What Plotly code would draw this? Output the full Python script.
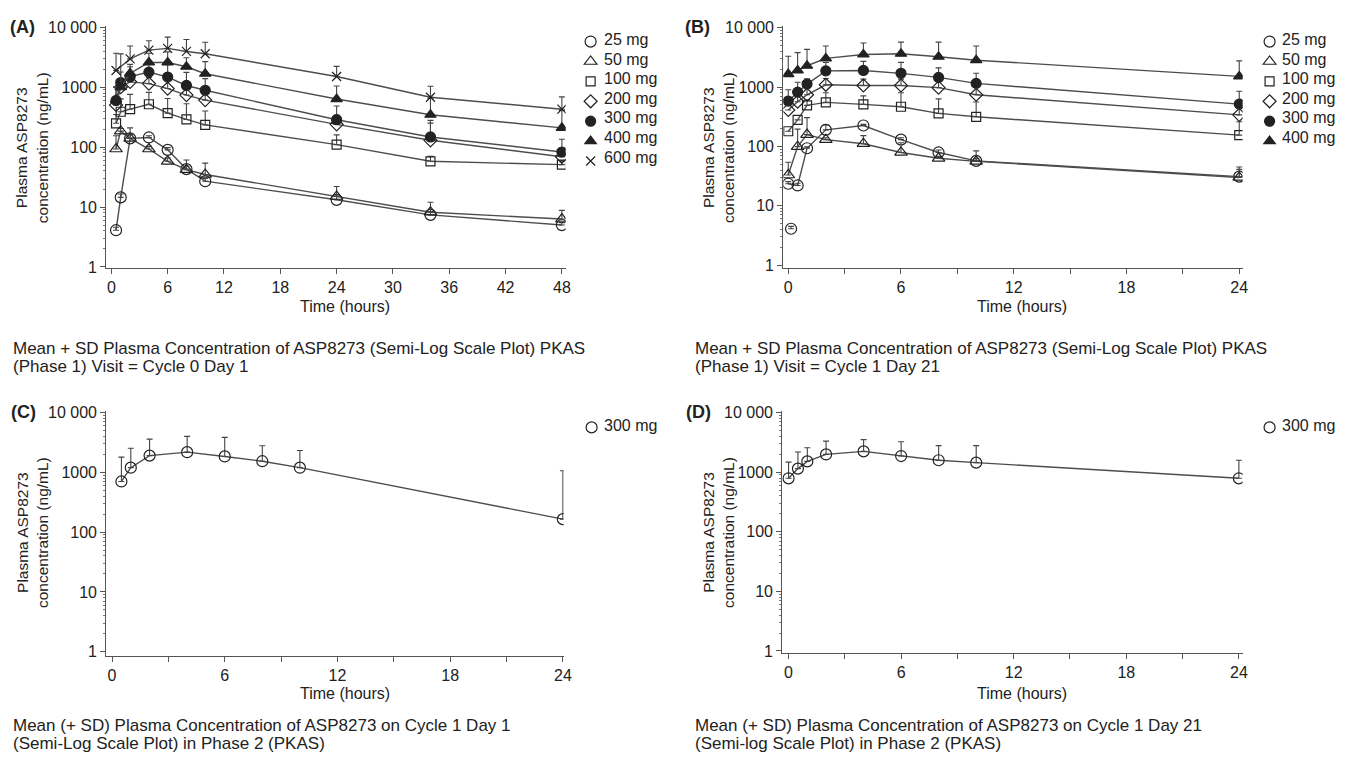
import plotly.graph_objects as go

W, H = 1356, 764

# ---------------- Panel A: Phase 1, Cycle 0 Day 1 ----------------
time_a = [0.5, 1, 2, 4, 6, 8, 10, 24, 34, 48]
a_25 = [4.1, 14.5, 140, 145, 90, 43, 27, 13.2, 7.4, 5.0]
a_25_sd = [0.5, 2, 70, 10, 8, 5, 3, 2, 1, 0.5]
a_50 = [93, 185, 140, 93, 58, 42, 35, 15, 8.2, 6.3]
a_50_sd = [62, 20, 20, 10, 8, 19, 19, 7, 3.8, 2.5]
a_100 = [250, 390, 430, 520, 370, 290, 235, 110, 58, 51]
a_100_sd = [100, 250, 330, 300, 280, 240, 165, 50, 12, 8]
a_200 = [505, 1000, 1230, 1150, 950, 740, 610, 240, 130, 69]
a_200_sd = [200, 200, 400, 300, 400, 350, 300, 100, 150, 20]
a_300 = [600, 1200, 1500, 1790, 1480, 1070, 890, 287, 148, 83]
a_300_sd = [400, 600, 700, 900, 900, 700, 500, 200, 104, 52]
a_400 = [620, 1000, 1710, 2590, 2590, 2200, 1680, 635, 347, 210]
a_400_sd = [400, 2600, 700, 1100, 1300, 900, 1000, 415, 300, 200]
a_600 = [1900, None, 2970, 4170, 4460, 3960, 3630, 1510, 680, 430]
a_600_sd = [1800, None, 1900, 1800, 2400, 2300, 2000, 720, 360, 260]

# ---------------- Panel B: Phase 1, Cycle 1 Day 21 ----------------
time_b = [0, 0.5, 1, 2, 4, 6, 8, 10, 24]
b_25 = [23.5, 22, 93, 190, 225, 130, 79, 57, 31]
b_25_sd = [2, 2, 5, 40, 10, 10, 8, 5, 10]
b_25_extra_time = [0.15]
b_25_extra = [4.1]
b_50 = [33, 99, 158, 130, 111, 79, 63, 56, 30]
b_50_sd = [21, 96, 147, 10, 41, 36, 5, 28, 15]
b_100 = [180, 280, 490, 550, 510, 465, 360, 315, 155]
b_100_sd = [0, 0, 120, 250, 200, 335, 270, 245, 105]
b_200 = [410, 565, 740, 1090, 1060, 1060, 975, 740, 340]
b_200_sd = [0, 150, 400, 300, 300, 300, 300, 300, 150]
b_300 = [580, 820, 1120, 1870, 1900, 1700, 1450, 1150, 515]
b_300_sd = [320, 380, 250, 710, 800, 900, 650, 550, 335]
b_400 = [1650, 1900, 2280, 3030, 3530, 3630, 3230, 2830, 1510]
b_400_sd = [1650, 1900, 2020, 1870, 1970, 2070, 2470, 2070, 1240]

# ---------------- Panel C: Phase 2, Cycle 1 Day 1 ----------------
time_c = [0.5, 1, 2, 4, 6, 8, 10, 24]
c_300 = [705, 1200, 1910, 2180, 1850, 1540, 1200, 165]
c_300_sd = [1095, 1330, 1690, 1820, 2000, 1260, 1130, 900]

# ---------------- Panel D: Phase 2, Cycle 1 Day 21 ----------------
time_d = [0, 0.5, 1, 2, 4, 6, 8, 10, 24]
d_300 = [790, 1150, 1520, 1990, 2240, 1870, 1590, 1450, 790]
d_300_sd = [690, 1030, 1050, 1330, 1280, 1380, 1210, 1350, 800]

dose_labels = ["25 mg", "50 mg", "100 mg", "200 mg", "300 mg", "400 mg", "600 mg"]
y_tick_vals = [1, 10, 100, 1000, 10000]
y_tick_text = ["1", "10", "100", "1000", "10 000"]

FONT = "Liberation Sans, Arial, sans-serif"
INK = "#222222"
LINE = "#4d4d4d"

SYMBOLS = {
    "25 mg": ("circle-open", 11),
    "50 mg": ("triangle-up-open", 11),
    "100 mg": ("square-open", 9),
    "200 mg": ("diamond-open", 10),
    "300 mg": ("circle", 10),
    "400 mg": ("triangle-up", 10),
    "600 mg": ("x-thin-open", 9),
}

fig = go.Figure()


def add_series(t, vals, sd, label, xa, ya, legend, symbol_key=None, show_line=True, show_legend=True):
    sym, size = SYMBOLS[symbol_key or label]
    if show_line:
        fig.add_trace(go.Scatter(
            x=t, y=vals, mode="lines", connectgaps=True, xaxis=xa, yaxis=ya,
            line=dict(color=LINE, width=1.4), showlegend=False, hoverinfo="skip"))
    fig.add_trace(go.Scatter(
        x=t, y=vals, mode="markers", xaxis=xa, yaxis=ya, name=" ",
        legend=legend, showlegend=show_legend, hovertext=label,
        marker=dict(symbol=sym, size=size, color=INK, line=dict(color=INK, width=1.2)),
        error_y=dict(type="data", symmetric=False, array=sd,
                     arrayminus=[0] * len(sd), color="#444444", thickness=1.1, width=3)))


series_a = [a_25, a_50, a_100, a_200, a_300, a_400, a_600]
sd_a = [a_25_sd, a_50_sd, a_100_sd, a_200_sd, a_300_sd, a_400_sd, a_600_sd]
for lab, v, s in zip(dose_labels, series_a, sd_a):
    add_series(time_a, v, s, lab, "x", "y", "legend")

series_b = [b_25, b_50, b_100, b_200, b_300, b_400]
sd_b = [b_25_sd, b_50_sd, b_100_sd, b_200_sd, b_300_sd, b_400_sd]
for lab, v, s in zip(dose_labels[:6], series_b, sd_b):
    add_series(time_b, v, s, lab, "x2", "y2", "legend2")
add_series(b_25_extra_time, b_25_extra, [0.4], "25 mg", "x2", "y2", "legend2",
           show_line=False, show_legend=False)

add_series(time_c, c_300, c_300_sd, "300 mg", "x3", "y3", "legend3", symbol_key="25 mg")
add_series(time_d, d_300, d_300_sd, "300 mg", "x4", "y4", "legend4", symbol_key="25 mg")


def px_x(a, b):
    return [a / W, b / W]


def px_y(top, bottom):
    return [1 - bottom / H, 1 - top / H]


minor_log = [m * 10 ** k for k in range(0, 4) for m in range(2, 10)]

axis_common = dict(showline=True, linecolor="#555555", linewidth=1.3, ticks="outside",
                   ticklen=5, tickcolor="#555555", tickwidth=1.2, showgrid=False, zeroline=False,
                   tickfont=dict(family=FONT, size=16, color=INK))


def yaxis(dom, rng, anchor):
    return dict(axis_common, type="log", domain=dom, range=rng, anchor=anchor,
                tickmode="array", tickvals=y_tick_vals, ticktext=y_tick_text,
                minor=dict(tickmode="array", tickvals=minor_log, ticks="outside",
                           ticklen=2.5, tickcolor="#777777", showgrid=False))


def xaxis(dom, rng, anchor, major, minor=None):
    d = dict(axis_common, domain=dom, range=rng, anchor=anchor,
             tickmode="array", tickvals=major, ticktext=[str(v) for v in major])
    if minor:
        d["minor"] = dict(tickmode="array", tickvals=minor, ticks="outside", ticklen=5,
                          tickcolor="#555555", showgrid=False)
    return d


fig.update_layout(
    width=W, height=H, margin=dict(l=0, r=0, t=0, b=0),
    paper_bgcolor="white", plot_bgcolor="white",
    font=dict(family=FONT, size=16, color=INK),
    xaxis=xaxis(px_x(107, 569), [-0.53, 48.4], "y", [0, 6, 12, 18, 24, 30, 36, 42, 48]),
    yaxis=yaxis(px_y(19.5, 266), [-0.02, 4.02], "x"),
    xaxis2=xaxis(px_x(788, 1250), [-0.26, 24.18], "y2", [0, 6, 12, 18, 24], [3, 9, 15, 21]),
    yaxis2=yaxis(px_y(19.5, 266), [-0.05, 4.025], "x2"),
    xaxis3=xaxis(px_x(107, 567), [-0.30, 24.04], "y3", [0, 6, 12, 18, 24], [3, 9, 15, 21]),
    yaxis3=yaxis(px_y(412, 660.7), [-0.066, 4.02], "x3"),
    xaxis4=xaxis(px_x(787, 1250), [-0.33, 24.2], "y4", [0, 6, 12, 18, 24], [3, 9, 15, 21]),
    yaxis4=yaxis(px_y(412, 658), [-0.033, 4.02], "x4"),
)

leg_common = dict(xanchor="left", yanchor="top", bgcolor="rgba(0,0,0,0)", borderwidth=0,
                  tracegroupgap=0, font=dict(family=FONT, size=13, color=INK))
fig.update_layout(
    legend=dict(leg_common, x=574 / W, y=1 - 20 / H),
    legend2=dict(leg_common, x=1257 / W, y=1 - 20 / H),
    legend3=dict(leg_common, x=575 / W, y=1 - 413 / H),
    legend4=dict(leg_common, x=1257 / W, y=1 - 413 / H),
)

annotations = []


def txt(x, y, text, size=16, bold=False, angle=0, xanchor="center", align="center"):
    annotations.append(dict(
        x=x / W, y=1 - y / H, xref="paper", yref="paper", text=f"<b>{text}</b>" if bold else text,
        showarrow=False, textangle=angle, xanchor=xanchor, yanchor="middle", align=align,
        font=dict(family=FONT, size=size, color=INK)))


# legend labels
for i, lab in enumerate(dose_labels):
    txt(606, 33 + 20 * i, lab, xanchor="left")
for i, lab in enumerate(dose_labels[:6]):
    txt(1288, 33 + 20 * i, lab, xanchor="left")
txt(606, 426, "300 mg", xanchor="left")
txt(1288, 426, "300 mg", xanchor="left")

# panel labels
txt(8, 20, "(A)", size=18, bold=True, xanchor="left")
txt(687, 20, "(B)", size=18, bold=True, xanchor="left")
txt(9, 413, "(C)", size=18, bold=True, xanchor="left")
txt(688, 413, "(D)", size=18, bold=True, xanchor="left")

# y-axis titles
ytitle = "Plasma ASP8273<br>concentration (ng/mL)"
txt(32, 143, ytitle, size=15.5, angle=-90)
txt(723, 143, ytitle, size=15.5, angle=-90)
txt(32, 535, ytitle, size=15.5, angle=-90)
txt(722, 535, ytitle, size=15.5, angle=-90)

# x-axis titles
txt(347, 305, "Time (hours)")
txt(1028, 305, "Time (hours)")
txt(347, 699, "Time (hours)")
txt(1028, 699, "Time (hours)")

# captions
txt(11, 348, "Mean + SD Plasma Concentration of ASP8273 (Semi-Log Scale Plot) PKAS", size=17, xanchor="left")
txt(11, 366, "(Phase 1) Visit = Cycle 0 Day 1", size=17, xanchor="left")
txt(697, 348, "Mean + SD Plasma Concentration of ASP8273 (Semi-Log Scale Plot) PKAS", size=17, xanchor="left")
txt(697, 366, "(Phase 1) Visit = Cycle 1 Day 21", size=17, xanchor="left")
txt(11, 732, "Mean (+ SD) Plasma Concentration of ASP8273 on Cycle 1 Day 1", size=17, xanchor="left")
txt(11, 750, "(Semi-Log Scale Plot) in Phase 2 (PKAS)", size=17, xanchor="left")
txt(697, 732, "Mean (+ SD) Plasma Concentration of ASP8273 on Cycle 1 Day 21", size=17, xanchor="left")
txt(697, 750, "(Semi-log Scale Plot) in Phase 2 (PKAS)", size=17, xanchor="left")

fig.update_layout(annotations=annotations)

fig.write_html("out.html", config={"displayModeBar": False},
               post_script="document.body.style.margin='0px';")
